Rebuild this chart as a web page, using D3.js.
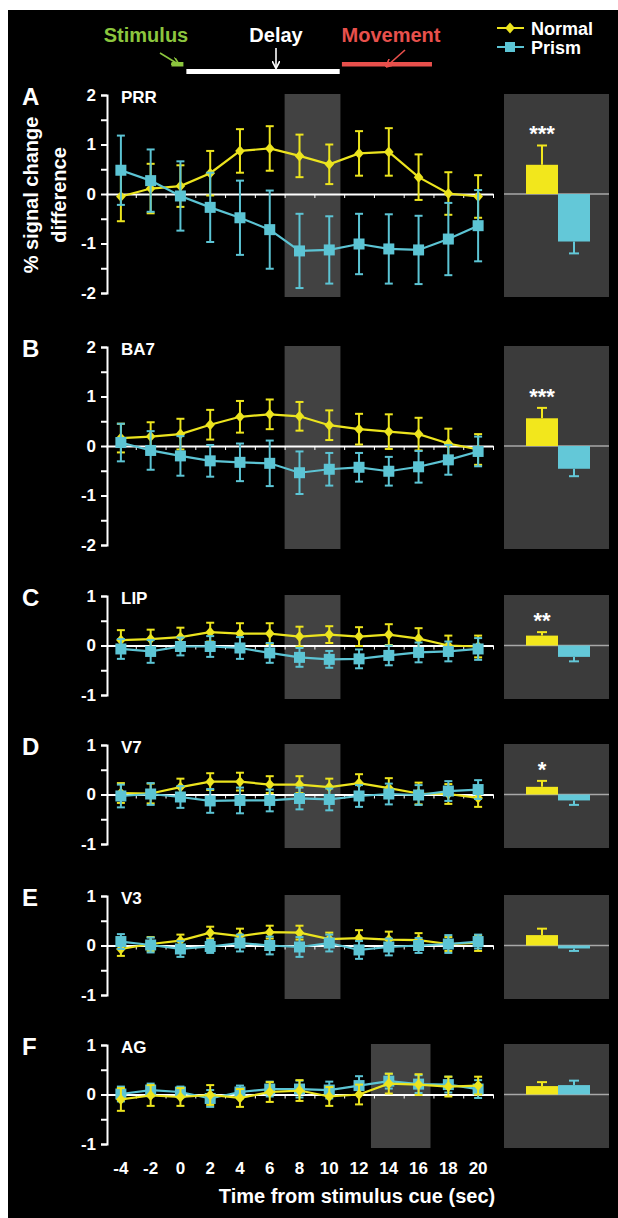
<!DOCTYPE html>
<html>
<head>
<meta charset="utf-8">
<script src="https://cdn.jsdelivr.net/npm/d3@7"></script>
<style>
  body { margin: 0; background: #fff; }
  svg { display: block; }
  text { font-family: "Liberation Sans", Arial, sans-serif; }
</style>
</head>
<body>
<svg></svg>
<script>
const w = 618
const h = 1218

// time points (sec from stimulus cue)
const times = [-4, -2, 0, 2, 4, 6, 8, 10, 12, 14, 16, 18, 20]
const xTicks = [-4, -2, 0, 2, 4, 6, 8, 10, 12, 14, 16, 18, 20]

const regions = ['PRR', 'BA7', 'LIP', 'V7', 'V3', 'AG']
const letters = ['A', 'B', 'C', 'D', 'E', 'F']
const yMax = [2, 2, 1, 1, 1, 1]

// time courses, mean and error per region
const prrNormal = [-0.05, 0.11, 0.16, 0.42, 0.87, 0.92, 0.77, 0.60, 0.82, 0.85, 0.34, 0.01, -0.05]
const prrNormalErr = [0.50, 0.50, 0.42, 0.45, 0.44, 0.45, 0.43, 0.40, 0.45, 0.48, 0.46, 0.43, 0.43]
const prrPrism = [0.48, 0.27, -0.04, -0.27, -0.48, -0.72, -1.15, -1.13, -1.01, -1.11, -1.13, -0.91, -0.64]
const prrPrismErr = [0.70, 0.63, 0.70, 0.70, 0.75, 0.79, 0.75, 0.68, 0.61, 0.70, 0.69, 0.73, 0.72]

const ba7Normal = [0.16, 0.19, 0.24, 0.43, 0.59, 0.64, 0.60, 0.42, 0.34, 0.29, 0.24, 0.05, -0.07]
const ba7NormalErr = [0.29, 0.29, 0.31, 0.30, 0.32, 0.30, 0.29, 0.30, 0.31, 0.35, 0.33, 0.30, 0.31]
const ba7Prism = [0.07, -0.09, -0.20, -0.30, -0.33, -0.35, -0.54, -0.47, -0.43, -0.51, -0.42, -0.28, -0.11]
const ba7PrismErr = [0.38, 0.39, 0.40, 0.32, 0.38, 0.46, 0.43, 0.33, 0.29, 0.29, 0.32, 0.30, 0.30]

const lipNormal = [0.11, 0.13, 0.17, 0.27, 0.24, 0.24, 0.18, 0.22, 0.18, 0.22, 0.14, 0.00, -0.02]
const lipNormalErr = [0.20, 0.19, 0.19, 0.19, 0.21, 0.21, 0.20, 0.17, 0.19, 0.21, 0.21, 0.20, 0.22]
const lipPrism = [-0.07, -0.12, -0.02, -0.02, -0.05, -0.15, -0.24, -0.28, -0.27, -0.20, -0.14, -0.12, -0.07]
const lipPrismErr = [0.20, 0.23, 0.18, 0.21, 0.22, 0.20, 0.19, 0.17, 0.19, 0.20, 0.20, 0.20, 0.22]

const v7Normal = [0.03, 0.02, 0.15, 0.26, 0.26, 0.20, 0.20, 0.15, 0.23, 0.13, 0.02, 0.01, -0.07]
const v7NormalErr = [0.20, 0.20, 0.17, 0.17, 0.18, 0.17, 0.17, 0.17, 0.18, 0.20, 0.22, 0.20, 0.18]
const v7Prism = [-0.03, 0.01, -0.05, -0.13, -0.12, -0.12, -0.08, -0.10, -0.03, 0.01, -0.01, 0.07, 0.10]
const v7PrismErr = [0.23, 0.22, 0.22, 0.24, 0.26, 0.22, 0.22, 0.22, 0.22, 0.21, 0.20, 0.20, 0.19]

const v3Normal = [-0.07, 0.03, 0.10, 0.26, 0.19, 0.27, 0.26, 0.13, 0.15, 0.12, 0.11, 0.03, 0.05]
const v3NormalErr = [0.14, 0.14, 0.12, 0.12, 0.15, 0.13, 0.14, 0.13, 0.16, 0.16, 0.14, 0.14, 0.16]
const v3Prism = [0.08, 0.01, -0.07, -0.02, 0.05, 0.00, -0.03, 0.05, -0.09, -0.03, 0.00, 0.03, 0.08]
const v3PrismErr = [0.15, 0.15, 0.16, 0.13, 0.17, 0.18, 0.20, 0.17, 0.18, 0.17, 0.15, 0.18, 0.14]

const agNormal = [-0.10, -0.02, -0.05, -0.01, -0.07, 0.05, 0.08, -0.04, 0.00, 0.22, 0.20, 0.16, 0.18]
const agNormalErr = [0.23, 0.21, 0.18, 0.20, 0.18, 0.20, 0.21, 0.19, 0.20, 0.20, 0.21, 0.20, 0.18]
const agPrism = [0.01, 0.09, 0.05, -0.08, 0.05, 0.11, 0.11, 0.09, 0.18, 0.27, 0.21, 0.20, 0.11]
const agPrismErr = [0.15, 0.13, 0.11, 0.17, 0.13, 0.15, 0.17, 0.17, 0.19, 0.15, 0.18, 0.16, 0.18]

// summary bars (shaded window average)
const barNormal = [0.59, 0.56, 0.20, 0.155, 0.21, 0.17]
const barNormalErr = [0.39, 0.21, 0.07, 0.12, 0.13, 0.08]
const barPrism = [-0.96, -0.46, -0.23, -0.12, -0.06, 0.19]
const barPrismErr = [0.24, 0.15, 0.09, 0.09, 0.05, 0.09]
const stars = ['***', '***', '**', '*', '', '']

// shaded analysis window (sec)
const shadeStart = [7, 7, 7, 7, 7, 12.8]
const shadeEnd = [10.75, 10.75, 10.75, 10.75, 10.75, 16.8]

// trial epochs (sec)
const epochNames = ['Stimulus', 'Delay', 'Movement']
const epochStart = [-0.6, 0.4, 10.85]
const epochEnd = [0.2, 10.7, 16.9]

const normalMeans = [prrNormal, ba7Normal, lipNormal, v7Normal, v3Normal, agNormal]
const normalErrs = [prrNormalErr, ba7NormalErr, lipNormalErr, v7NormalErr, v3NormalErr, agNormalErr]
const prismMeans = [prrPrism, ba7Prism, lipPrism, v7Prism, v3Prism, agPrism]
const prismErrs = [prrPrismErr, ba7PrismErr, lipPrismErr, v7PrismErr, v3PrismErr, agPrismErr]

const yellow = '#ece41e'
const cyan = '#5cc4d4'
const barYellow = '#f2e71c'
const barCyan = '#63c8d8'
const green = '#8cc63e'
const red = '#e8504c'

const svg = d3.select('svg')
  .attr('width', w)
  .attr('height', h)

svg.append('rect')
  .attr('x', 8).attr('y', 10)
  .attr('width', w - 8).attr('height', h - 10)
  .attr('fill', '#000')

const x = d3.scaleLinear()
  .domain([-5, 21])
  .range([106, 493])

const unit = 49.5 // px per % signal change
const panelTop = [95, 347, 596, 745, 896, 1045]

const defs = svg.append('defs')
const arrowHead = (id, color) => {
  defs.append('marker')
    .attr('id', id)
    .attr('viewBox', '0 0 10 10')
    .attr('refX', 8).attr('refY', 5)
    .attr('markerWidth', 5).attr('markerHeight', 5)
    .attr('orient', 'auto')
    .append('path')
    .attr('d', 'M0,0L10,5L0,10')
    .attr('fill', 'none')
    .attr('stroke', color)
    .attr('stroke-width', 2)
}
arrowHead('arG', green)
arrowHead('arW', '#fff')
arrowHead('arR', red)

// header: trial epochs
const epochColor = [green, '#fff', red]
const epochY = [62, 69, 62]
const epochH = [4.5, 5, 4.5]
const header = svg.append('g')
header.selectAll('rect.epoch').data(epochNames)
  .enter().append('rect')
  .attr('class', 'epoch')
  .attr('x', (d, i) => x(epochStart[i]))
  .attr('width', (d, i) => x(epochEnd[i]) - x(epochStart[i]))
  .attr('y', (d, i) => epochY[i])
  .attr('height', (d, i) => epochH[i])
  .attr('fill', (d, i) => epochColor[i])

const labelX = [146, 276, 391]
header.selectAll('text.epoch').data(epochNames)
  .enter().append('text')
  .attr('class', 'epoch')
  .attr('x', (d, i) => labelX[i])
  .attr('y', 42)
  .attr('text-anchor', 'middle')
  .attr('font-size', 20)
  .attr('font-weight', 'bold')
  .attr('fill', (d, i) => epochColor[i])
  .text(d => d)

const arrows = [
  [160, 53, 178, 64, 'arG', green],
  [276, 48, 276, 67, 'arW', '#fff'],
  [405, 50, 387, 66, 'arR', red]
]
header.selectAll('line.arrow').data(arrows)
  .enter().append('line')
  .attr('x1', d => d[0]).attr('y1', d => d[1])
  .attr('x2', d => d[2]).attr('y2', d => d[3])
  .attr('stroke', d => d[5])
  .attr('stroke-width', 1.6)
  .attr('marker-end', d => `url(#${d[4]})`)

// legend
const diamond = 'M0,-5.5L4.8,0L0,5.5L-4.8,0Z'
const legend = svg.append('g')
const legendItems = [['Normal', yellow, 28], ['Prism', cyan, 47]]
legendItems.forEach(([name, color, ly]) => {
  legend.append('line')
    .attr('x1', 497).attr('x2', 524)
    .attr('y1', ly).attr('y2', ly)
    .attr('stroke', color).attr('stroke-width', 2)
  if (name === 'Normal') {
    legend.append('path').attr('d', diamond)
      .attr('transform', `translate(510,${ly})`).attr('fill', color)
  } else {
    legend.append('rect').attr('x', 505).attr('y', ly - 5)
      .attr('width', 10).attr('height', 10).attr('fill', color)
  }
  legend.append('text')
    .attr('x', 531).attr('y', ly + 7)
    .attr('font-size', 18).attr('font-weight', 'bold')
    .attr('fill', '#fff')
    .text(name)
})

// y axis title
const yTitle = svg.append('g').attr('fill', '#fff')
  .attr('font-size', 20).attr('font-weight', 'bold')
yTitle.append('text')
  .attr('transform', 'translate(38,195) rotate(-90)')
  .attr('text-anchor', 'middle')
  .text('% signal change')
yTitle.append('text')
  .attr('transform', 'translate(66,195) rotate(-90)')
  .attr('text-anchor', 'middle')
  .text('difference')

const band = d3.scaleBand()
  .domain(['Normal', 'Prism'])
  .range([526, 590])

regions.forEach((region, i) => {
  const top = panelTop[i]
  const m = yMax[i]
  const y = d3.scaleLinear()
    .domain([-m, m])
    .range([top + 2 * m * unit, top])

  const g = svg.append('g')

  // shaded window
  g.append('rect')
    .attr('x', x(shadeStart[i]))
    .attr('width', x(shadeEnd[i]) - x(shadeStart[i]))
    .attr('y', y(m) - 1)
    .attr('height', y(-m) - y(m) + 5)
    .attr('fill', '#424242')

  // summary panel
  g.append('rect')
    .attr('x', 504).attr('width', 105)
    .attr('y', y(m) - 1)
    .attr('height', y(-m) - y(m) + 5)
    .attr('fill', '#3b3b3b')

  g.append('line')
    .attr('x1', 504).attr('x2', 609)
    .attr('y1', y(0)).attr('y2', y(0))
    .attr('stroke', '#a8a8a8').attr('stroke-width', 1.5)

  const bars = [
    { k: 'Normal', v: barNormal[i], e: barNormalErr[i], c: barYellow },
    { k: 'Prism', v: barPrism[i], e: barPrismErr[i], c: barCyan }
  ]
  g.selectAll('rect.bar').data(bars)
    .enter().append('rect')
    .attr('class', 'bar')
    .attr('x', d => band(d.k))
    .attr('width', band.bandwidth())
    .attr('y', d => y(Math.max(0, d.v)))
    .attr('height', d => Math.abs(y(d.v) - y(0)))
    .attr('fill', d => d.c)

  const tipOf = d => d.v + Math.sign(d.v) * d.e
  g.selectAll('line.barerr').data(bars)
    .enter().append('line')
    .attr('x1', d => band(d.k) + band.bandwidth() / 2)
    .attr('x2', d => band(d.k) + band.bandwidth() / 2)
    .attr('y1', d => y(d.v))
    .attr('y2', d => y(tipOf(d)))
    .attr('stroke', d => d.c).attr('stroke-width', 2)
  g.selectAll('line.barcap').data(bars)
    .enter().append('line')
    .attr('x1', d => band(d.k) + band.bandwidth() / 2 - 5)
    .attr('x2', d => band(d.k) + band.bandwidth() / 2 + 5)
    .attr('y1', d => y(tipOf(d)))
    .attr('y2', d => y(tipOf(d)))
    .attr('stroke', d => d.c).attr('stroke-width', 2)

  g.append('text')
    .attr('x', band('Normal') + band.bandwidth() / 2)
    .attr('y', y(tipOf(bars[0])) - 4)
    .attr('text-anchor', 'middle')
    .attr('font-size', 22).attr('font-weight', 'bold')
    .attr('fill', '#fff')
    .text(stars[i])

  // zero line with odd-second ticks
  const zeroAxis = g.append('g')
    .attr('transform', `translate(0,${y(0)})`)
    .call(d3.axisBottom(x)
      .tickValues(d3.range(-3, 22, 2))
      .tickSize(4)
      .tickSizeOuter(0)
      .tickFormat(''))
  zeroAxis.selectAll('path, line')
    .attr('stroke', '#fff')
  zeroAxis.select('.domain').attr('stroke-width', 2)

  // y axis
  const yAxisG = g.append('g')
    .attr('transform', `translate(107,0)`)
    .call(d3.axisLeft(y)
      .tickValues(d3.range(-m, m + 0.01, 0.5))
      .tickSize(6)
      .tickPadding(5)
      .tickFormat(d => Number.isInteger(d) ? d3.format('d')(d).replace('−', '-') : ''))
  yAxisG.selectAll('path, line')
    .attr('stroke', '#fff').attr('stroke-width', 2)
  yAxisG.selectAll('text')
    .attr('fill', '#fff')
    .attr('font-size', 17)
    .attr('font-weight', 'bold')
    .attr('font-family', '"Liberation Sans", Arial, sans-serif')

  // panel letter and region name
  g.append('text')
    .attr('x', 22).attr('y', top + 10)
    .attr('font-size', 24).attr('font-weight', 'bold')
    .attr('fill', '#fff')
    .text(letters[i])
  g.append('text')
    .attr('x', 121).attr('y', top + 8)
    .attr('font-size', 17).attr('font-weight', 'bold')
    .attr('fill', '#fff')
    .text(region)

  // time courses
  const series = [
    { name: 'Normal', mean: normalMeans[i], err: normalErrs[i], c: yellow },
    { name: 'Prism', mean: prismMeans[i], err: prismErrs[i], c: cyan }
  ]
  if (region === 'AG') series.reverse() // normal drawn on top here

  const line = d3.line()
    .x(d => x(d.t))
    .y(d => y(d.v))

  series.forEach(s => {
    const pts = times.map((t, j) => ({ t: t, v: s.mean[j], e: s.err[j] }))
    const sg = g.append('g')
    sg.selectAll('line.err').data(pts)
      .enter().append('line')
      .attr('x1', d => x(d.t)).attr('x2', d => x(d.t))
      .attr('y1', d => y(d.v - d.e)).attr('y2', d => y(d.v + d.e))
      .attr('stroke', s.c).attr('stroke-width', 2)
    sg.selectAll('line.capHi').data(pts)
      .enter().append('line')
      .attr('x1', d => x(d.t) - 4).attr('x2', d => x(d.t) + 4)
      .attr('y1', d => y(d.v + d.e)).attr('y2', d => y(d.v + d.e))
      .attr('stroke', s.c).attr('stroke-width', 2)
    sg.selectAll('line.capLo').data(pts)
      .enter().append('line')
      .attr('x1', d => x(d.t) - 4).attr('x2', d => x(d.t) + 4)
      .attr('y1', d => y(d.v - d.e)).attr('y2', d => y(d.v - d.e))
      .attr('stroke', s.c).attr('stroke-width', 2)
    sg.append('path')
      .datum(pts)
      .attr('d', line)
      .attr('fill', 'none')
      .attr('stroke', s.c)
      .attr('stroke-width', 2.2)
    if (s.name === 'Normal') {
      sg.selectAll('path.mk').data(pts)
        .enter().append('path')
        .attr('d', diamond)
        .attr('transform', d => `translate(${x(d.t)},${y(d.v)})`)
        .attr('fill', s.c)
    } else {
      sg.selectAll('rect.mk').data(pts)
        .enter().append('rect')
        .attr('x', d => x(d.t) - 5.5).attr('y', d => y(d.v) - 5.5)
        .attr('width', 11).attr('height', 11)
        .attr('fill', s.c)
    }
  })

  // x tick labels only under the last panel
  if (i === regions.length - 1) {
    g.selectAll('text.xt').data(xTicks)
      .enter().append('text')
      .attr('x', d => x(d))
      .attr('y', 1174)
      .attr('text-anchor', 'middle')
      .attr('font-size', 17).attr('font-weight', 'bold')
      .attr('fill', '#fff')
      .text(d => d)
    g.append('text')
      .attr('x', 357).attr('y', 1203)
      .attr('text-anchor', 'middle')
      .attr('font-size', 20).attr('font-weight', 'bold')
      .attr('fill', '#fff')
      .text('Time from stimulus cue (sec)')
  }
})
</script>
</body>
</html>
